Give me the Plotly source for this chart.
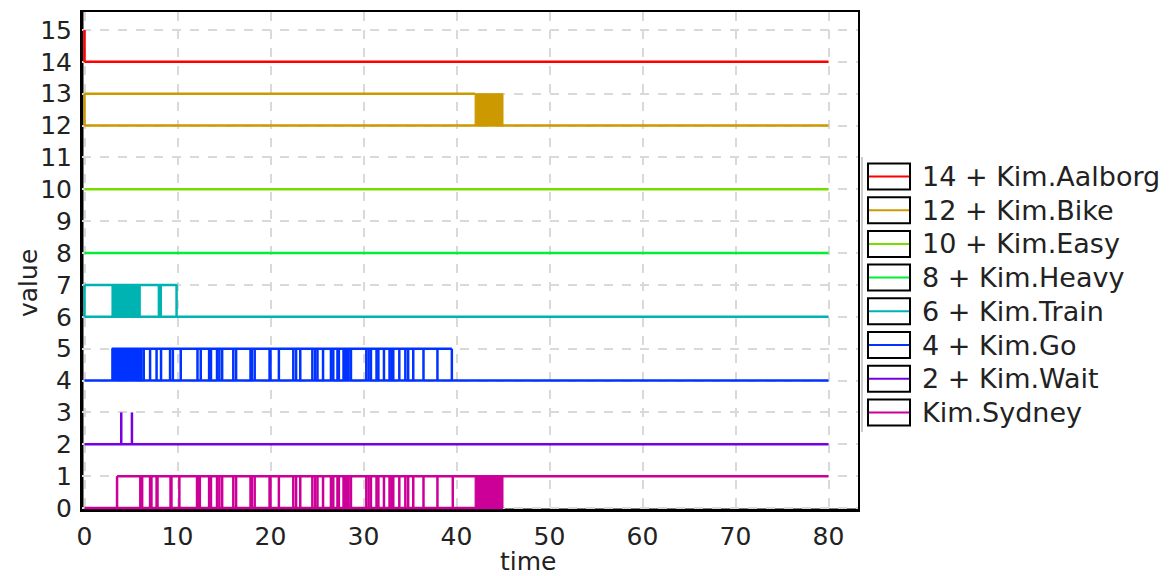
import plotly.graph_objects as go

# ---------------- data ----------------
series_names = ["14 + Kim.Aalborg", "12 + Kim.Bike", "10 + Kim.Easy", "8 + Kim.Heavy",
                "6 + Kim.Train", "4 + Kim.Go", "2 + Kim.Wait", "Kim.Sydney"]
series_colors = ["#ff0000", "#cc9900", "#77dd00", "#00ee33",
                 "#00b3b3", "#0033ff", "#7700dd", "#cc0099"]
series_offsets = [14, 12, 10, 8, 6, 4, 2, 0]

aalborg_low = [(0, 80)]
aalborg_high = []
aalborg_edges = [0]
aalborg_fill = []

bike_low = [(0, 80)]
bike_high = [(0, 42.0)]
bike_edges = [0]
bike_fill = [(42.0, 45.0)]

easy_low = [(0, 80)]
easy_high = []
easy_edges = []
easy_fill = []

heavy_low = [(0, 80)]
heavy_high = []
heavy_edges = []
heavy_fill = []

train_low = [(0, 80)]
train_high = [(0, 10.0)]
train_edges = [0, 8.0, 8.2, 9.9]
train_fill = [(2.95, 6.0)]

go_low = [(0, 80)]
go_high = [(2.93, 39.5)]
go_edges = [6.37, 7.05, 7.75, 8.23, 9.2, 9.5, 10.35, 12.15, 12.5, 13.4, 13.6, 14.25, 14.5,
            14.8, 16.0, 16.3, 17.85, 18.0, 18.3, 19.9, 20.0, 20.9, 22.45, 22.75, 23.2, 24.5,
            24.8, 25.05, 25.65, 26.5, 26.75, 27.2, 27.35, 27.85, 28.0, 28.2, 28.4, 28.65,
            30.3, 30.55, 30.8, 31.4, 31.6, 32.2, 32.8, 33.0, 33.2, 33.85, 34.5, 34.8, 35.35,
            36.45, 37.95, 39.5]
go_fill = [(2.93, 6.2)]

wait_low = [(0, 80)]
wait_high = []
wait_edges = [3.95, 5.1]
wait_fill = []

sydney_low = [(0, 45.0)]
sydney_high = [(3.5, 80)]
sydney_edges = [3.5, 6.0, 6.2, 7.05, 7.2, 7.75, 7.85, 9.25, 9.35, 10.2, 12.1, 12.25, 12.4,
                13.4, 13.6, 14.25, 14.5, 14.8, 16.0, 16.3, 17.85, 18.0, 18.3, 19.9, 20.0,
                20.9, 22.45, 22.75, 23.2, 24.5, 24.8, 25.05, 25.65, 26.5, 26.75, 27.2, 27.35,
                27.85, 28.0, 28.2, 28.4, 28.65, 30.3, 30.55, 30.8, 31.4, 31.6, 32.2, 32.8,
                33.0, 33.2, 33.85, 34.5, 34.8, 35.35, 36.45, 37.95, 39.6]
sydney_fill = [(42.0, 45.0)]

series_low = [aalborg_low, bike_low, easy_low, heavy_low, train_low, go_low, wait_low, sydney_low]
series_high = [aalborg_high, bike_high, easy_high, heavy_high, train_high, go_high, wait_high, sydney_high]
series_edges = [aalborg_edges, bike_edges, easy_edges, heavy_edges, train_edges, go_edges, wait_edges, sydney_edges]
series_fill = [aalborg_fill, bike_fill, easy_fill, heavy_fill, train_fill, go_fill, wait_fill, sydney_fill]

x_ticks = [0, 10, 20, 30, 40, 50, 60, 70, 80]
y_ticks = list(range(0, 16))

# ---------------- figure ----------------
OFF = 8                            # page body margin
W, H = 1171 - OFF, 576 - OFF
L, R, T, B = 82 - OFF, 858 - OFF, 12 - OFF, 510 - OFF   # plot area (figure pixels)
X0_PX, X80_PX = 84.5 - OFF, 828.5 - OFF
Y0_PX, Y15_PX = 508 - OFF, 30 - OFF

fig = go.Figure()

for i in range(len(series_names))[::-1]:
    b = series_offsets[i]
    c = series_colors[i]
    for (x0, x1) in series_fill[i]:
        fig.add_trace(go.Scatter(x=[x0, x1, x1, x0, x0], y=[b, b, b + 1, b + 1, b],
                                 mode="lines", fill="toself", fillcolor=c,
                                 line=dict(color=c, width=1), hoverinfo="skip",
                                 showlegend=False))
    xs, ys = [], []
    for (x0, x1) in series_low[i]:
        xs += [x0, x1, None]
        ys += [b, b, None]
    for (x0, x1) in series_high[i]:
        xs += [x0, x1, None]
        ys += [b + 1, b + 1, None]
    for t in series_edges[i]:
        xs += [t, t, None]
        ys += [b, b + 1, None]
    fig.add_trace(go.Scatter(x=xs, y=ys, mode="lines", line=dict(color=c, width=2.5),
                             name=series_names[i], showlegend=False, hoverinfo="skip",
                             cliponaxis=False))

x_per_px = 80 / (X80_PX - X0_PX)
y_per_px = 15 / (Y0_PX - Y15_PX)
xr = [-(X0_PX - L) * x_per_px, (R - X0_PX) * x_per_px]
yr = [-(B - Y0_PX) * y_per_px, (Y0_PX - T) * y_per_px]

axis_font = dict(family="DejaVu Sans", size=25, color="#222222")

fig.update_xaxes(range=xr, tickvals=x_ticks, ticktext=[str(v) for v in x_ticks],
                 showgrid=True, gridcolor="#d9d9d9", griddash="dash", gridwidth=1.5,
                 showline=True, linecolor="black", linewidth=2, mirror=True,
                 zeroline=False, ticks="outside", ticklen=3, tickcolor="rgba(0,0,0,0)",
                 tickfont=axis_font, automargin=False, layer="below traces")
fig.update_yaxes(range=yr, tickvals=y_ticks, ticktext=[str(v) for v in y_ticks],
                 showgrid=True, gridcolor="#d9d9d9", griddash="dash", gridwidth=1.5,
                 showline=True, linecolor="black", linewidth=2, mirror=True,
                 zeroline=False, ticks="outside", ticklen=3, tickcolor="rgba(0,0,0,0)",
                 tickfont=axis_font, automargin=False, layer="below traces")

def px_x(p):
    return (p - OFF - L) / (R - L)

def px_y(p):
    return (B - (p - OFF)) / (B - T)

shapes = []
annotations = []
shapes.append(dict(type="line", xref="paper", yref="paper", x0=0, x1=0, layer="below",
                   y0=0, y1=1, line=dict(color="black", width=3)))
shapes.append(dict(type="line", xref="paper", yref="paper", x0=0, x1=1, layer="below",
                   y0=0, y1=0, line=dict(color="black", width=3)))
shapes.append(dict(type="line", xref="paper", yref="paper", x0=px_x(862), x1=px_x(862),
                   y0=px_y(432), y1=px_y(157), line=dict(color="#bbbbbb", width=1.5)))

row0, row_h = 176.5, 33.7
for i, name in enumerate(series_names):
    cy = row0 + i * row_h
    shapes.append(dict(type="rect", xref="paper", yref="paper",
                       x0=px_x(868), x1=px_x(910), y0=px_y(cy + 13), y1=px_y(cy - 13),
                       line=dict(color="black", width=2), fillcolor="white"))
    shapes.append(dict(type="line", xref="paper", yref="paper",
                       x0=px_x(869), x1=px_x(909), y0=px_y(cy), y1=px_y(cy),
                       line=dict(color=series_colors[i], width=2)))
    annotations.append(dict(text=name, xref="paper", yref="paper", x=px_x(920), y=px_y(cy),
                            xanchor="left", yanchor="middle", showarrow=False,
                            font=dict(family="DejaVu Sans", size=27, color="#222222")))

annotations.append(dict(text="time", xref="paper", yref="paper", x=px_x(528), y=px_y(561),
                        xanchor="center", yanchor="middle", showarrow=False,
                        font=dict(family="DejaVu Sans", size=25, color="#222222")))
annotations.append(dict(text="value", xref="paper", yref="paper", x=px_x(28), y=px_y(283),
                        xanchor="center", yanchor="middle", showarrow=False, textangle=-90,
                        font=dict(family="DejaVu Sans", size=25, color="#222222")))

fig.update_layout(width=W, height=H, margin=dict(l=L, r=W - R, t=T, b=H - B, autoexpand=False),
                  paper_bgcolor="white", plot_bgcolor="white",
                  shapes=shapes, annotations=annotations, showlegend=False)

fig.write_html("out.html")
